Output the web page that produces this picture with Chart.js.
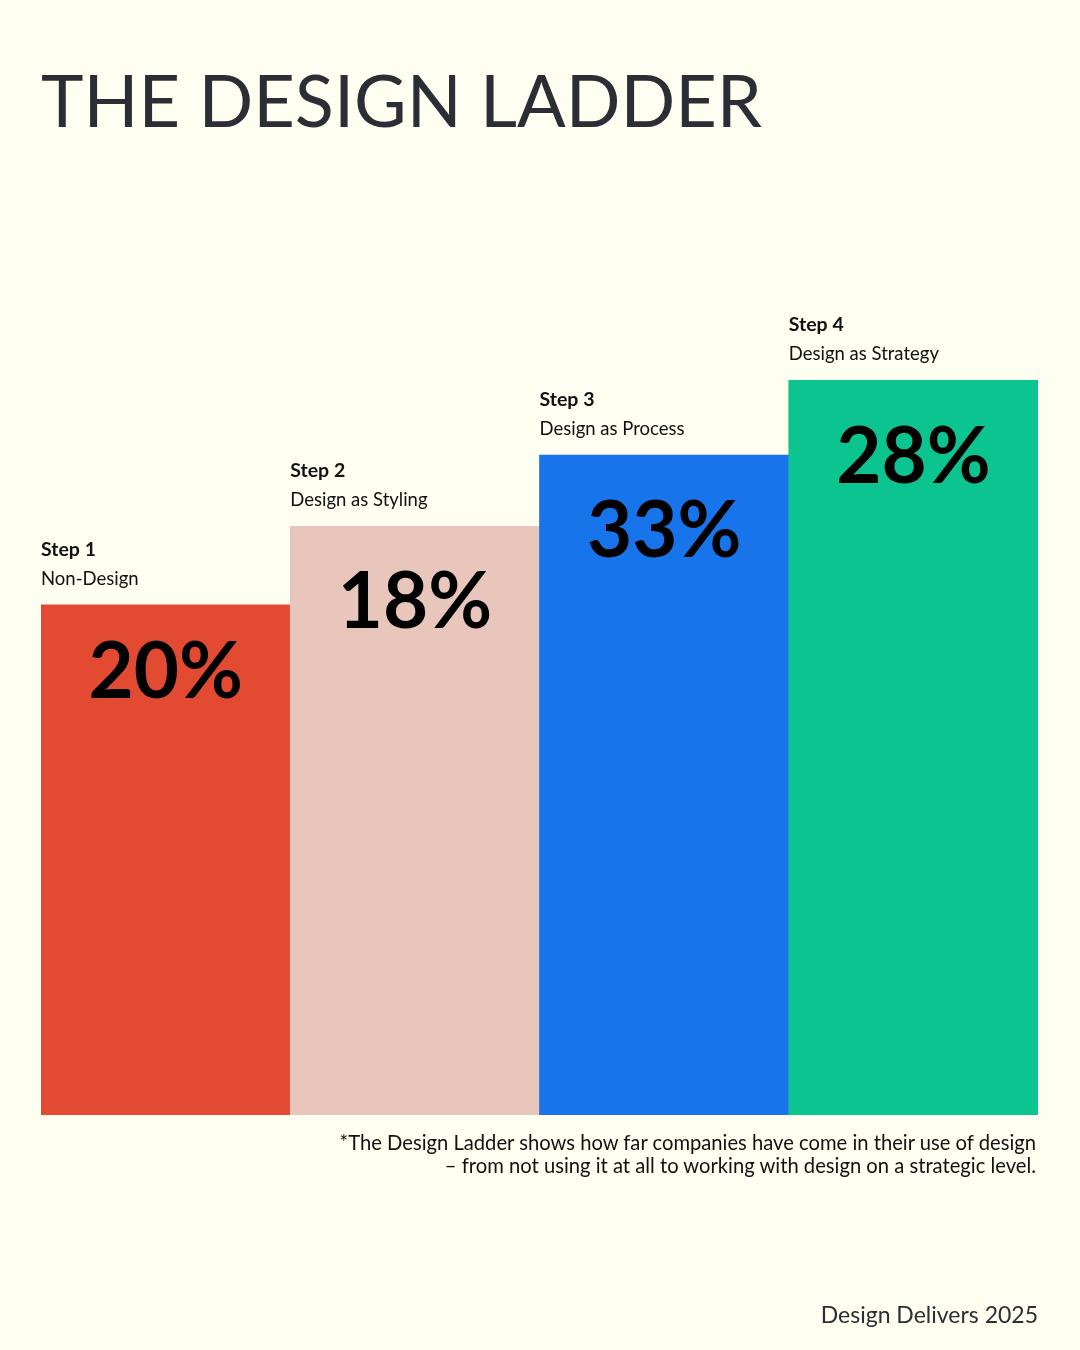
<!DOCTYPE html>
<html>
<head>
<meta charset="utf-8">
<script src="https://cdn.jsdelivr.net/npm/chart.js@4/dist/chart.umd.min.js"></script>
<style>
  html, body { margin: 0; padding: 0; background: #fefef1; }
  body { width: 1080px; height: 1350px; position: relative; overflow: hidden; font-family: Lato, "Open Sans", sans-serif; }
  #wrap { position: absolute; left: 0; top: 0; width: 1080px; height: 1350px; }
  .title { position: absolute; left: 41px; top: 63px; font-size: 72px; font-weight: 400; color: #2b2e35; white-space: nowrap; line-height: 1; }
  .note { position: absolute; right: 44px; top: 1131px; font-size: 20.2px; color: #111; text-align: right; line-height: 23px; }
  .footer { position: absolute; right: 42px; top: 1303px; font-size: 23px; color: #2b2e35; line-height: 1; }
</style>
</head>
<body>
<div id="wrap"><canvas id="c" width="1080" height="1350"></canvas></div>
<div class="title">THE DESIGN LADDER</div>
<div class="note">*The Design Ladder shows how far companies have come in their use of design<br>– from not using it at all to working with design on a strategic level.</div>
<div class="footer">Design Delivers 2025</div>
<script>
// Data
const steps = ["Step 1", "Step 2", "Step 3", "Step 4"];
const stepNames = ["Non-Design", "Design as Styling", "Design as Process", "Design as Strategy"];
const shares = [20, 18, 33, 28];               // percent of companies
const ladderLevels = [69.4, 80.1, 89.8, 100];   // visual ladder step heights (index units)
const barColors = ["#e34a32", "#e8c6bb", "#1774ea", "#0cc48f"];

const labelPlugin = {
  id: "ladderLabels",
  afterDatasetsDraw(chart) {
    const ctx = chart.ctx;
    const meta = chart.getDatasetMeta(0);
    const valueOffsets = [93, 102, 102, 103];
    meta.data.forEach((bar, i) => {
      const left = bar.x - bar.width / 2;
      const top = bar.y;
      ctx.save();
      ctx.textAlign = "left";
      ctx.textBaseline = "alphabetic";
      ctx.fillStyle = "#111";
      ctx.font = "700 19.5px Lato, 'Open Sans', sans-serif";
      ctx.fillText(steps[i], left, top - 49);
      ctx.font = "400 18.5px Lato, 'Open Sans', sans-serif";
      ctx.fillText(stepNames[i], left, top - 20);
      ctx.textAlign = "center";
      ctx.fillStyle = "#000";
      ctx.font = "700 78px Lato, 'Open Sans', sans-serif";
      ctx.fillText(shares[i] + "%", bar.x, top + valueOffsets[i]);
      ctx.restore();
    });
  }
};

new Chart(document.getElementById("c"), {
  type: "bar",
  data: {
    labels: steps,
    datasets: [{
      data: ladderLevels,
      backgroundColor: barColors,
      borderWidth: 0,
      categoryPercentage: 1,
      barPercentage: 1
    }]
  },
  options: {
    responsive: false,
    animation: false,
    layout: { padding: { left: 41, right: 42, top: 380, bottom: 235 } },
    plugins: { legend: { display: false }, tooltip: { enabled: false }, title: { display: false } },
    scales: {
      x: { display: false },
      y: { display: false, min: 0, max: 100 }
    }
  },
  plugins: [labelPlugin]
});
</script>
</body>
</html>
